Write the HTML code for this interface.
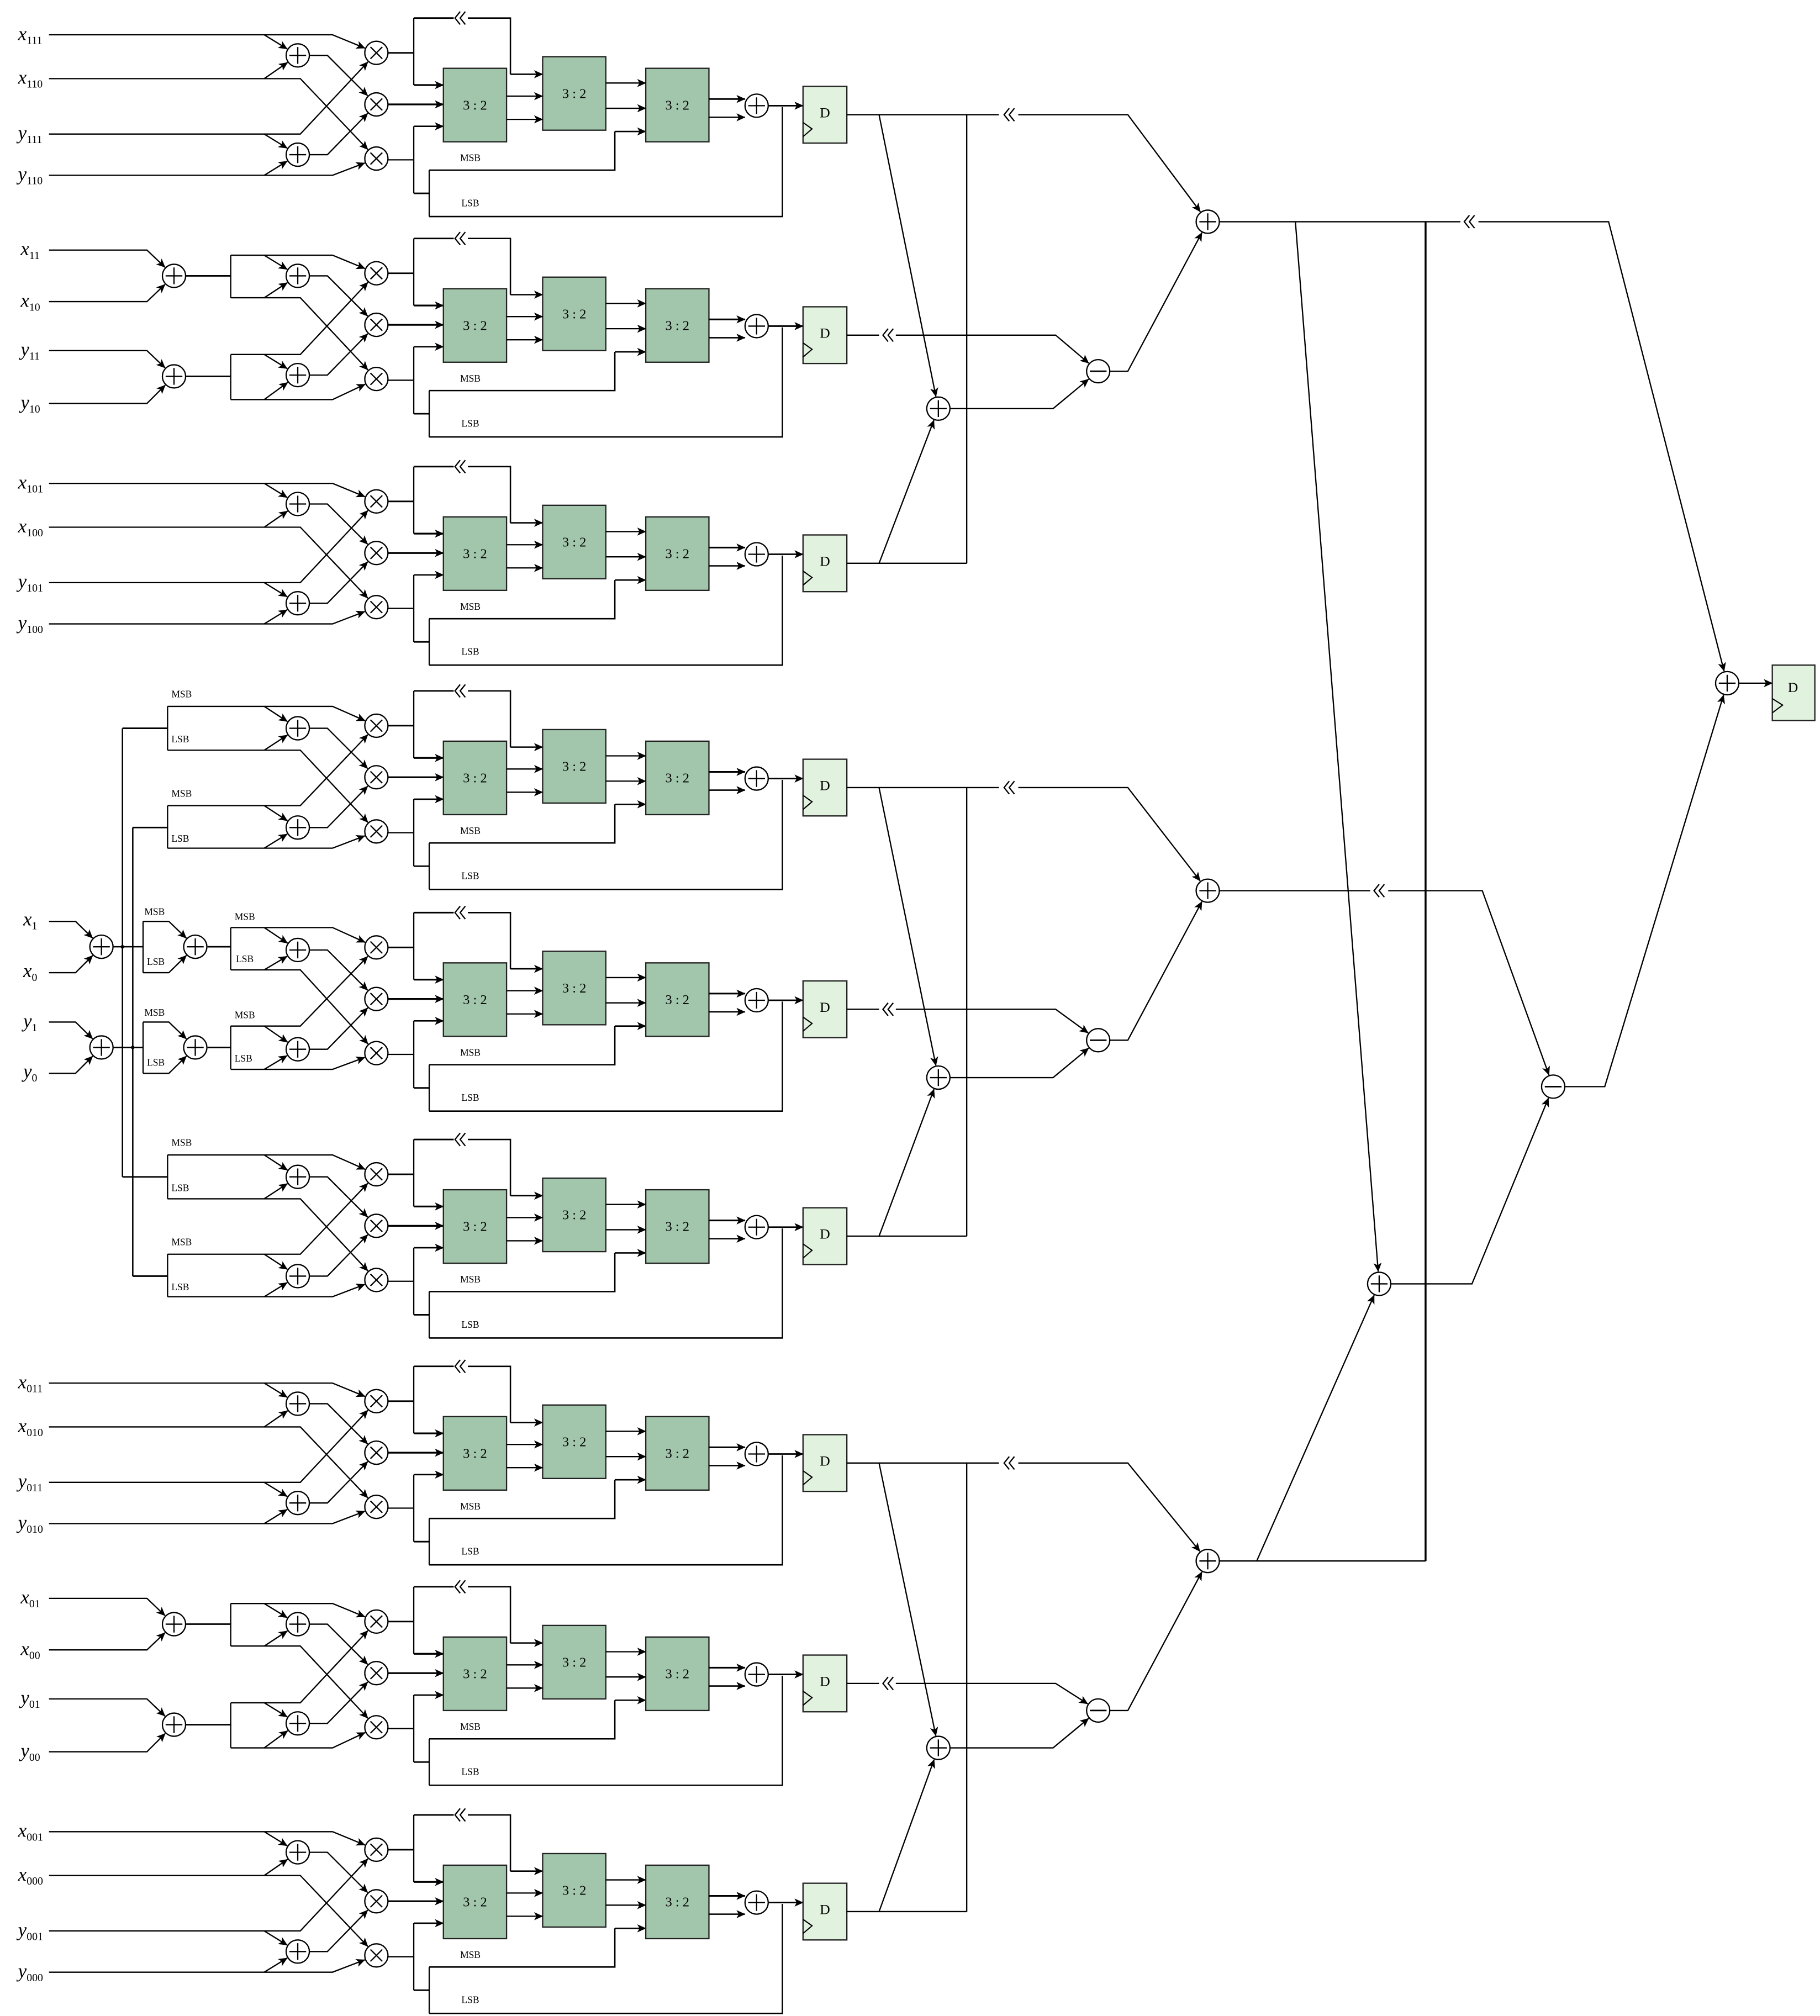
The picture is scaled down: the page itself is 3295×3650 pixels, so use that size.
<!DOCTYPE html>
<html><head><meta charset="utf-8"><style>html,body{margin:0;padding:0;background:#fff}svg{display:block}</style></head>
<body>
<svg id="s" xmlns="http://www.w3.org/2000/svg" width="3295" height="3650" viewBox="0 0 1412 1564" preserveAspectRatio="none"></svg>
<script>
const S=[];const T=[];const Cc=[];
function L(p,arr,w){S.push('<polyline points="'+p.map(q=>q[0].toFixed(2)+','+q[1].toFixed(2)).join(' ')+'" fill="none" stroke="#000" stroke-width="'+(w||1)+'"'+(arr?' marker-end="url(#a)"':'')+'/>');}
function A(p,w){const n=p.length;const a=p[n-2],c=p[n-1];const dx=c[0]-a[0],dy=c[1]-a[1],d=Math.hypot(dx,dy);const q=p.slice(0,n-1);q.push([c[0]-dx/d*9.6,c[1]-dy/d*9.6]);L(q,true,w);}
function C(x,y,t){let s='<circle cx="'+x+'" cy="'+y+'" r="9" fill="#fff" stroke="#000" stroke-width="1"/>';
 if(t=='+')s+='<path d="M'+(x-6.5)+','+y+'H'+(x+6.5)+'M'+x+','+(y-6.5)+'V'+(y+6.5)+'" stroke="#000" stroke-width="1"/>';
 if(t=='x')s+='<path d="M'+(x-4.6)+','+(y-4.6)+'L'+(x+4.6)+','+(y+4.6)+'M'+(x+4.6)+','+(y-4.6)+'L'+(x-4.6)+','+(y+4.6)+'" stroke="#000" stroke-width="1"/>';
 if(t=='-')s+='<path d="M'+(x-6.5)+','+y+'H'+(x+6.5)+'" stroke="#000" stroke-width="1.2"/>';
 Cc.push(s);}
function TX(x,y,s,sz,anc){T.push('<text x="'+x+'" y="'+y+'" font-family="Liberation Serif, serif" font-size="'+sz+'"'+(anc?' text-anchor="middle"':'')+'>'+s+'</text>');}
function LB(x,y,v,sub){T.push('<text x="'+x+'" y="'+y+'" font-family="Liberation Serif, serif" font-size="15" font-style="italic">'+v+'<tspan dy="3" font-size="8.5" font-style="normal">'+sub+'</tspan></text>');}
function CH(x,y){S.push('<path d="M'+(x+4)+','+(y-5)+'L'+x+','+y+'L'+(x+4)+','+(y+5)+'M'+(x+8)+','+(y-5)+'L'+(x+4)+','+y+'L'+(x+8)+','+(y+5)+'" fill="none" stroke="#000" stroke-width="1"/>');}
function internal(o,xs,r){
 const M1=[292,o+41],M2=[292,o+81],M3=[292,o+123],A1=[231,o+43],A2=[231,o+120];
 A([[xs,r[0]],[258,r[0]],M1]);A([[205,r[0]],A1]);
 A([[xs,r[1]],[233,r[1]],M3]);A([[205,r[1]],A1]);
 A([[xs,r[2]],[233,r[2]],M1]);A([[205,r[2]],A2]);
 A([[xs,r[3]],[258,r[3]],M3]);A([[205,r[3]],A2]);
 A([[240,o+43],[254,o+43],M2]);A([[240,o+120],[254,o+120],M2]);
 C(A1[0],A1[1],'+');C(A2[0],A2[1],'+');C(M1[0],M1[1],'x');C(M2[0],M2[1],'x');C(M3[0],M3[1],'x');
}
function right(o){
 L([[301,o+41],[321,o+41]],0,1.2);L([[321,o+14],[321,o+66]]);
 L([[321,o+14],[352,o+14]],0,1.2);CH(353,o+14);L([[363,o+14],[396,o+14],[396,o+57.6]],0,1.1);
 L([[396,o+57.6],[421,o+57.6]],1,1.1);L([[321,o+66],[344,o+66]],1,1.4);
 L([[301,o+81],[344,o+81]],1,1.4);
 L([[301,o+124],[321,o+124]]);L([[321,o+98],[321,o+150]]);L([[321,o+98],[344,o+98]],1,1.1);
 L([[321,o+150],[333,o+150]],0,1.2);L([[333,o+132],[333,o+168]]);
 L([[333,o+132],[477,o+132],[477,o+102]],0,1.1);L([[477,o+102],[501,o+102]],1,1.1);
 L([[333,o+168],[607,o+168],[607,o+83]],0,1.1);
 const bx=[[344,o+53],[421,o+44],[501,o+53]];
 bx.forEach(b=>{S.push('<rect x="'+b[0]+'" y="'+b[1]+'" width="49" height="57" fill="#a1c6ab" stroke="#222" stroke-width="1"/>');TX(b[0]+24.5,b[1]+32,'3 : 2',10.5,1);});
 L([[393,o+74.6],[421,o+74.6]],1);L([[393,o+92.6],[421,o+92.6]],1);
 L([[470,o+64.4],[501,o+64.4]],1);L([[470,o+84],[501,o+84]],1);
 L([[550,o+76.8],[578,o+76.8]],1,1.3);L([[550,o+91],[578,o+91]],1,1.1);
 C(587,o+82,'+');L([[596,o+82],[623,o+82]],1,1.2);
 S.push('<rect x="623" y="'+(o+67)+'" width="34" height="44" fill="#e1f3de" stroke="#222" stroke-width="1"/>');
 S.push('<path d="M623,'+(o+95)+'L630,'+(o+100)+'L623,'+(o+106)+'" fill="none" stroke="#000" stroke-width="0.9"/>');
 TX(640,o+91,'D',11,1);
 TX(357,o+125,'MSB',7.5);TX(358,o+160,'LSB',7.5);
}
const B=[0,171,348,522,694,870,1046,1217,1394];
function typeA(o,lab){const r=[o+27,o+61,o+104,o+136];internal(o,38,r);
 lab.forEach((l,i)=>LB(14,r[i]+4,l[0],l[1]));}
function typeB(o,lab){const ro=[o+23,o+63,o+101,o+142];const P1=[135,o+43],P2=[135,o+121];
 A([[38,ro[0]],[114,ro[0]],P1]);A([[38,ro[1]],[114,ro[1]],P1]);A([[38,ro[2]],[114,ro[2]],P2]);A([[38,ro[3]],[114,ro[3]],P2]);
 L([[144,o+43],[179,o+43]],0,1.2);L([[179,o+27],[179,o+60]]);L([[144,o+121],[179,o+121]],0,1.2);L([[179,o+104],[179,o+139]]);
 internal(o,179,[o+27,o+60,o+104,o+139]);C(P1[0],P1[1],'+');C(P2[0],P2[1],'+');
 lab.forEach((l,i)=>LB(16,ro[i]+4,l[0],l[1]));}
function typeC(o){L([[95,o+43],[130,o+43]],0,1.2);L([[130,o+26],[130,o+60]]);L([[103,o+120],[130,o+120]],0,1.2);L([[130,o+103],[130,o+136]]);
 internal(o,130,[o+26,o+60,o+103,o+136]);
 TX(133,o+19,'MSB',7.5);TX(133,o+54,'LSB',7.5);TX(133,o+96,'MSB',7.5);TX(133,o+131,'LSB',7.5);}
typeA(B[0],[['x','111'],['x','110'],['y','111'],['y','110']]);
typeB(B[1],[['x','11'],['x','10'],['y','11'],['y','10']]);
typeA(B[2],[['x','101'],['x','100'],['y','101'],['y','100']]);
typeC(B[3]);typeC(B[5]);
typeA(B[6],[['x','011'],['x','010'],['y','011'],['y','010']]);
typeB(B[7],[['x','01'],['x','00'],['y','01'],['y','00']]);
typeA(B[8],[['x','001'],['x','000'],['y','001'],['y','000']]);
// middle block
(function(){const o=B[4];
 const rr=[[714.8,754.6,734.5],[792.9,832.7,812.6]];
 rr.forEach((q,k)=>{const P=[78.7,q[2]];A([[38,q[0]],[58.6,q[0]],P]);A([[38,q[1]],[58.6,q[1]],P]);
  L([[88,q[2]],[111,q[2]]],0,1.1);L([[111,q[0]],[111,q[1]]]);
  const Q=[151.5,q[2]];A([[111,q[0]],[131,q[0]],Q]);A([[111,q[1]],[131,q[1]],Q]);
  L([[161,q[2]],[179,q[2]]],0,1.2);C(P[0],P[1],'+');C(Q[0],Q[1],'+');
  TX(112,q[0]-5,'MSB',7.5);TX(114,q[1]-6,'LSB',7.5);});
 const r=[719.6,752.4,796,829.6];L([[179,r[0]],[179,r[1]]]);L([[179,r[2]],[179,r[3]]]);
 internal(o,179,r);
 TX(182,r[0]-6,'MSB',7.5);TX(183,r[1]-6,'LSB',7.5);TX(182,r[2]-6,'MSB',7.5);TX(182,r[3]-6,'LSB',7.5);
 LB(18,718,'x','1');LB(18,758,'x','0');LB(18,797,'y','1');LB(18,836,'y','0');
 S.push('<circle cx="95" cy="734.5" r="1.4"/><circle cx="103" cy="812.6" r="1.4"/>');
})();
L([[95,565],[95,913]],0,1.1);L([[103,642],[103,990]],0,1.1);
B.forEach(o=>right(o));
// groups
function group(g,i){const ya=B[i]+89,yb=B[i+1]+89,yc=B[i+2]+89;
 const P=[728,317+g],N=[852,288+g],Sx=[937,172+g];
 L([[657,ya],[775,ya]]);L([[750,ya],[750,yc]]);CH(779,ya);A([[790,ya],[875,ya],Sx]);
 A([[682,ya],P]);
 L([[657,yb],[682,yb]]);CH(685,yb);A([[695,yb],[819,yb],N]);
 L([[657,yc],[750,yc]]);A([[682,yc],P]);
 A([[737,P[1]],[817,P[1]],N]);A([[861,N[1]],[875,N[1]],Sx]);
 C(P[0],P[1],'+');C(N[0],N[1],'-');C(Sx[0],Sx[1],'+');}
group(0,0);group(519,3);group(1039,6);
const F=[1340,530],Tt=[1070,996],U=[1205,843];
L([[946,172],[1133,172]]);CH(1136,172);A([[1147,172],[1248,172],F]);
A([[1005,172],Tt]);L([[1106,172],[1106,1211]],0,1.5);
L([[946,1211],[1106,1211]]);A([[975,1211],Tt]);
L([[946,691],[1063,691]]);CH(1066,691);A([[1077,691],[1150,691],U]);
A([[1079,996],[1142,996],U]);A([[1214,843],[1245,843],F]);
C(Tt[0],Tt[1],'+');C(U[0],U[1],'-');C(F[0],F[1],'+');
L([[1349,530],[1375,530]],1);
S.push('<rect x="1375" y="516" width="33" height="43" fill="#e1f3de" stroke="#222" stroke-width="1"/><path d="M1375,542L1383,547L1375,553" fill="none" stroke="#000" stroke-width="0.9"/>');
TX(1391,537,'D',11,1);
document.getElementById('s').innerHTML='<defs><marker id="a" viewBox="0 0 10 10" refX="9.5" refY="5" markerWidth="7" markerHeight="7" markerUnits="userSpaceOnUse" orient="auto"><path d="M0,0.5L10,5L0,9.5L2.5,5z" fill="#000"/></marker></defs>'+S.join('')+Cc.join('')+T.join('');
</script>
</body></html>
